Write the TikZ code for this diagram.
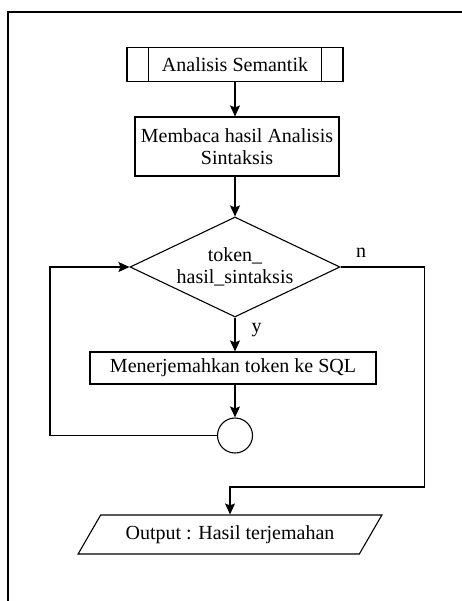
\documentclass[tikz,border=0pt]{standalone}
\usepackage{fontspec}
\setmainfont{Liberation Serif}
\usetikzlibrary{calc,positioning,shapes.geometric,arrows.meta}

\begin{document}
\begin{tikzpicture}[x=1pt, y=-1pt,
    font=\rmfamily\fontsize{20}{22}\selectfont,
    box/.style={draw, line width=1.1pt, inner sep=2pt, align=center},
    arr/.style={line width=1.1pt, -{Stealth[length=11pt, width=10pt, inset=2pt]}},
    plain/.style={line width=1.1pt}]
\useasboundingbox (0,0) rectangle (462,601);

% Outer frame, cut off at the right and bottom
\draw[line width=1.8pt] (8,601) -- (8,12) -- (462,12);

% Declare the offset of the inner bars
\def\sekat{22}

% Draw the blocks of the flow
\node[box, minimum width=216pt, minimum height=34pt] (mulai) at (235,64.5) {Analisis Semantik};
\node[box, minimum width=204pt, minimum height=59pt] (baca) at (237,146.5) {Membaca hasil Analisis\\Sintaksis};
\node[box, shape=diamond, aspect=2.1, inner sep=0pt, minimum width=210pt, minimum height=100pt] (cek) at (235,267) {token\_\\hasil\_sintaksis};
\node[box, minimum width=286pt, minimum height=32pt] (terjemah) at (233,368) {Menerjemahkan token ke SQL};
\node[draw, circle, line width=1.1pt, minimum size=35pt, inner sep=0pt] (titik) at (235,435.5) {};
\node[box, shape=trapezium, trapezium left angle=50, trapezium right angle=130,
      trapezium stretches=true, minimum width=304pt, minimum height=39pt] (keluaran) at (230,534.5) {Output : Hasil terjemahan};

% Side bars of the predefined process
\draw[plain] ([xshift=\sekat pt]mulai.north west) -- ([xshift=\sekat pt]mulai.south west);
\draw[plain] ([xshift=-\sekat pt]mulai.north east) -- ([xshift=-\sekat pt]mulai.south east);

% Connectors
\draw[arr] (mulai.south) -- (mulai.south |- baca.north);
\draw[arr] (mulai.south |- baca.south) -- (cek.north);
\draw[arr] (cek.south) -- (cek.south |- terjemah.north);
\draw[arr] (cek.south |- terjemah.south) -- (titik.north);
\draw[arr] (titik.west) -- ++(-167,0) |- (cek.west);
\draw[arr] (cek.east) -- ++(84,0) -- ++(0,220) -| (keluaran.north);

% Branch labels
\node[anchor=south west] (lbln) at ([xshift=12pt, yshift=6pt]cek.east) {n};
\node[anchor=north west] (lbly) at ([xshift=13pt, yshift=-2pt]cek.south) {y};
\end{tikzpicture}
\end{document}
